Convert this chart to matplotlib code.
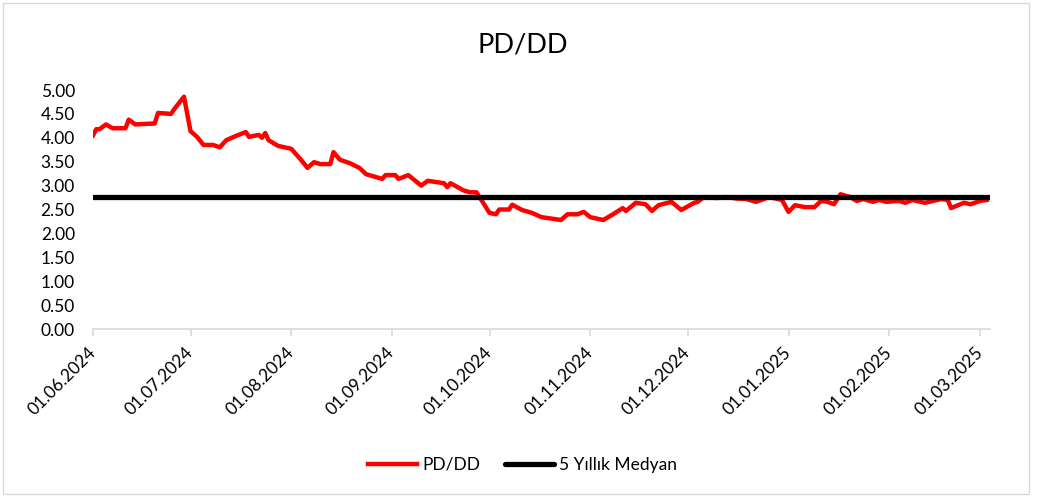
import matplotlib
matplotlib.use("Agg")
import matplotlib.pyplot as plt
from matplotlib.patches import Rectangle
import pandas as pd

plt.rcParams['font.family'] = ['Lato', 'DejaVu Sans']

# PD/DD değerleri
dates = [
    "2024-06-01", "2024-06-02", "2024-06-03", "2024-06-05", "2024-06-07", "2024-06-11",
    "2024-06-12", "2024-06-14", "2024-06-20", "2024-06-21", "2024-06-25", "2024-06-26",
    "2024-06-29", "2024-07-01", "2024-07-03", "2024-07-05", "2024-07-08", "2024-07-10",
    "2024-07-12", "2024-07-15", "2024-07-18", "2024-07-19", "2024-07-22", "2024-07-23",
    "2024-07-24", "2024-07-25", "2024-07-28", "2024-08-01", "2024-08-04", "2024-08-06",
    "2024-08-08", "2024-08-10", "2024-08-13", "2024-08-14", "2024-08-16", "2024-08-19",
    "2024-08-22", "2024-08-24", "2024-08-27", "2024-08-29", "2024-08-30", "2024-09-02",
    "2024-09-03", "2024-09-06", "2024-09-10", "2024-09-12", "2024-09-17", "2024-09-18",
    "2024-09-19", "2024-09-23", "2024-09-25", "2024-09-27", "2024-10-01", "2024-10-03",
    "2024-10-04", "2024-10-07", "2024-10-08", "2024-10-11", "2024-10-14", "2024-10-17",
    "2024-10-23", "2024-10-25", "2024-10-28", "2024-10-30", "2024-11-01", "2024-11-05",
    "2024-11-08", "2024-11-11", "2024-11-12", "2024-11-15", "2024-11-18", "2024-11-20",
    "2024-11-22", "2024-11-26", "2024-11-29", "2024-12-03", "2024-12-04", "2024-12-06",
    "2024-12-10", "2024-12-13", "2024-12-16", "2024-12-19", "2024-12-22", "2024-12-26",
    "2024-12-30", "2025-01-01", "2025-01-03", "2025-01-06", "2025-01-09", "2025-01-11",
    "2025-01-13", "2025-01-15", "2025-01-17", "2025-01-20", "2025-01-22", "2025-01-24",
    "2025-01-27", "2025-01-29", "2025-01-31", "2025-02-04", "2025-02-06", "2025-02-08",
    "2025-02-12", "2025-02-17", "2025-02-19", "2025-02-20", "2025-02-24", "2025-02-26",
    "2025-03-01", "2025-03-03",
]
pd_dd = [
    4.05, 4.18, 4.18, 4.28, 4.20, 4.20,
    4.38, 4.28, 4.30, 4.52, 4.50, 4.60,
    4.86, 4.14, 4.02, 3.85, 3.85, 3.80,
    3.95, 4.04, 4.12, 4.02, 4.06, 4.00,
    4.10, 3.95, 3.83, 3.77, 3.54, 3.37,
    3.49, 3.45, 3.45, 3.70, 3.54, 3.47,
    3.37, 3.24, 3.18, 3.14, 3.22, 3.22,
    3.14, 3.22, 3.00, 3.10, 3.05, 2.97,
    3.05, 2.90, 2.86, 2.86, 2.43, 2.40,
    2.50, 2.50, 2.60, 2.49, 2.43, 2.34,
    2.28, 2.40, 2.40, 2.45, 2.34, 2.28,
    2.40, 2.53, 2.47, 2.64, 2.61, 2.47,
    2.59, 2.66, 2.49, 2.64, 2.66, 2.76,
    2.74, 2.76, 2.73, 2.72, 2.66, 2.76,
    2.70, 2.45, 2.59, 2.55, 2.55, 2.68,
    2.66, 2.61, 2.82, 2.76, 2.68, 2.72,
    2.66, 2.70, 2.66, 2.68, 2.64, 2.70,
    2.64, 2.72, 2.70, 2.53, 2.64, 2.61,
    2.68, 2.70,
]
median_5y = 2.77
tick_dates = ["2024-06-01", "2024-07-01", "2024-08-01", "2024-09-01", "2024-10-01",
              "2024-11-01", "2024-12-01", "2025-01-01", "2025-02-01", "2025-03-01"]
y_ticks = [0, 0.5, 1, 1.5, 2, 2.5, 3, 3.5, 4, 4.5, 5]

x = pd.to_datetime(dates)
ticks = pd.to_datetime(tick_dates)
x_end = pd.Timestamp("2025-03-04")

fig = plt.figure(figsize=(10.45, 4.97), dpi=100)
ax = fig.add_axes([93 / 1045, 1 - 329 / 497, (990 - 93) / 1045, (329 - 90) / 497])

ax.plot(x, pd_dd, color="#ff0000", lw=3.2, solid_joinstyle="round", label="PD/DD", zorder=2)
ax.plot([x[0], x_end], [median_5y, median_5y], color="black", lw=3.8,
        solid_capstyle="round", label="5 Yıllık Medyan", zorder=3)

ax.set_xlim(x[0], x_end)
ax.set_ylim(0, 5)
ax.set_yticks(y_ticks)
ax.set_yticklabels([f"{v:.2f}" for v in y_ticks], fontsize=12.5)
ax.set_xticks(ticks)
ax.set_xticklabels([d.strftime("%d.%m.%Y") for d in ticks], rotation=45, ha="right",
                   va="center", rotation_mode="anchor", fontsize=12.5)

for s in ["top", "right", "left"]:
    ax.spines[s].set_visible(False)
ax.spines["bottom"].set_color("#d9d9d9")
ax.spines["bottom"].set_linewidth(1.2)
ax.tick_params(axis="y", length=0, pad=13)
ax.tick_params(axis="x", length=5, color="#d9d9d9", width=1.2, pad=10)

fig.text(0.5, 1 - 45 / 497, "PD/DD", ha="center", va="center", fontsize=19.5)

ax.legend(loc="center", bbox_to_anchor=(0.5, 1 - 465 / 497), bbox_transform=fig.transFigure,
          ncol=2, frameon=False, fontsize=12.5, handlelength=2.8, columnspacing=1.45,
          handletextpad=0.3)

fig.patches.append(Rectangle((3 / 1045, 3 / 497), 1026 / 1045, 491 / 497,
                             transform=fig.transFigure, fill=False, edgecolor="#d9d9d9", lw=1))

fig.savefig("out.png", dpi=100)
